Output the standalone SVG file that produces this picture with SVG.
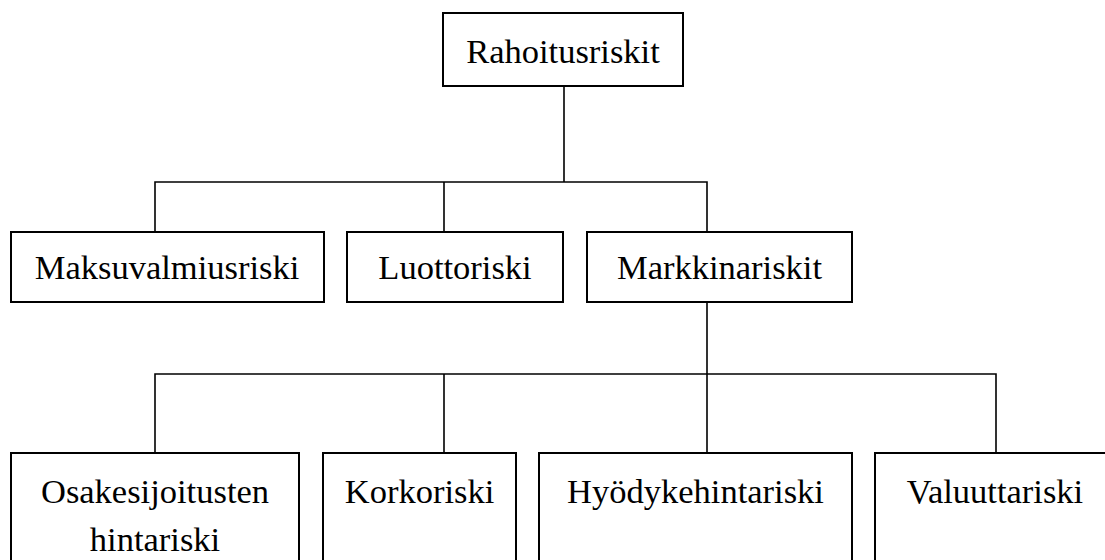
<svg xmlns="http://www.w3.org/2000/svg" width="1105" height="560" viewBox="0 0 1105 560">
<style>
.box{fill:#fff;stroke:#000;stroke-width:2}
.lbl{font-family:"Liberation Serif","Times New Roman",serif;font-size:34.5px;fill:#000;text-anchor:middle}
.con{fill:none;stroke:#000;stroke-width:1.6}
</style>
<rect width="1105" height="560" fill="#fff"/>
<g id="connectors">
<path class="con" d="M564 86V182M155 232V182H707V232M444 182V232"/>
<path class="con" d="M707 302V453M155 453V374H996V453M444 374V453"/>
</g>
<g id="n-rahoitusriskit"><rect class="box" x="443" y="13" width="240" height="73"/><text class="lbl" x="563" y="63">Rahoitusriskit</text></g>
<g id="n-maksuvalmiusriski"><rect class="box" x="11" y="232" width="313" height="70"/><text class="lbl" x="167" y="279">Maksuvalmiusriski</text></g>
<g id="n-luottoriski"><rect class="box" x="347" y="232" width="216" height="70"/><text class="lbl" x="455" y="279">Luottoriski</text></g>
<g id="n-markkinariskit"><rect class="box" x="587" y="232" width="265" height="70"/><text class="lbl" x="719.5" y="279">Markkinariskit</text></g>
<g id="n-osake"><rect class="box" x="11" y="453" width="288" height="120"/><text class="lbl" x="155" y="503">Osakesijoitusten</text><text class="lbl" x="155" y="551">hintariski</text></g>
<g id="n-korkoriski"><rect class="box" x="323" y="453" width="193" height="120"/><text class="lbl" x="419.5" y="503">Korkoriski</text></g>
<g id="n-hyodyke"><rect class="box" x="539" y="453" width="313" height="120"/><text class="lbl" x="695.5" y="503">Hyödykehintariski</text></g>
<g id="n-valuutta"><rect class="box" x="875" y="453" width="240" height="120"/><text class="lbl" x="995" y="503">Valuuttariski</text></g>
</svg>
